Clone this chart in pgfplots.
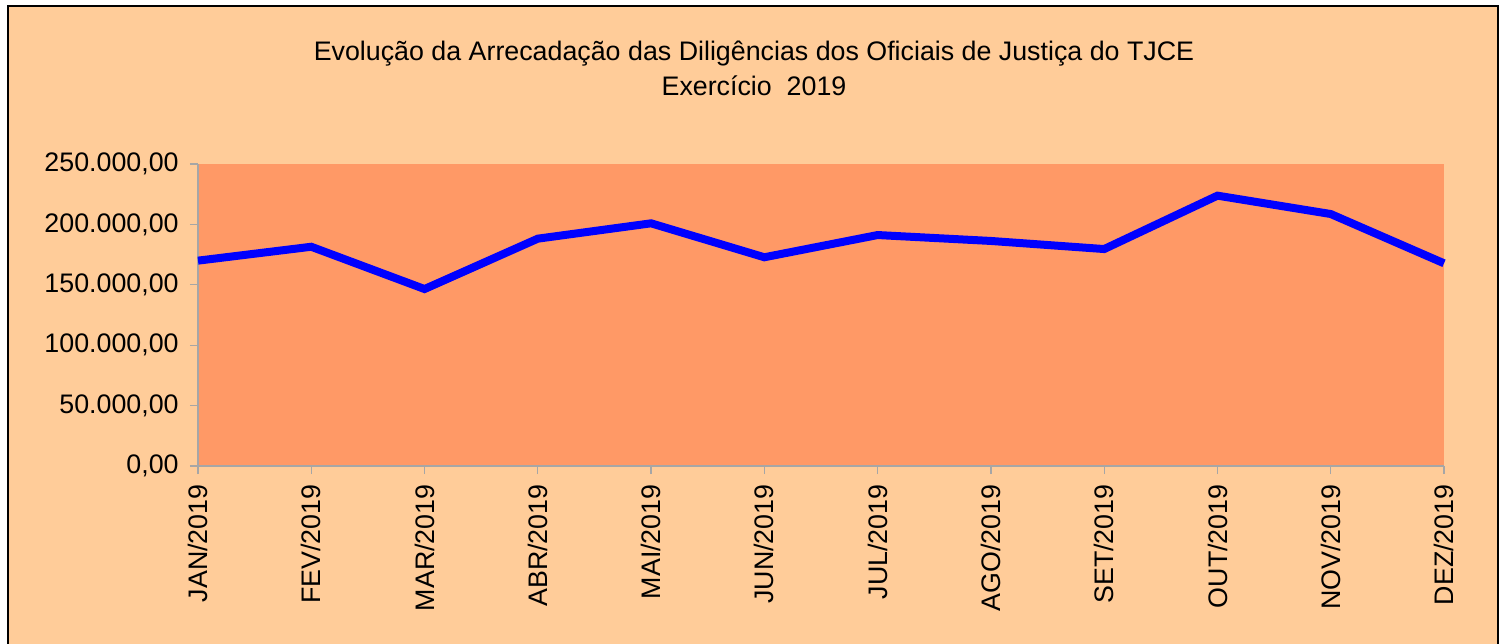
\documentclass[border=0pt]{standalone}
\usepackage{pgfplots}
\pgfplotsset{compat=1.18}
\usepackage{fontspec}
\setmainfont{Liberation Sans}
\definecolor{outerbg}{HTML}{FFCC99}
\definecolor{plotbg}{HTML}{FF9966}
\definecolor{axisgray}{HTML}{A6A6A6}
\begin{document}
\begin{tikzpicture}
\useasboundingbox (-99pt,-88.5pt) rectangle (652.5pt,233pt);
\fill[white] (-99pt,-88.5pt) rectangle (652.5pt,233pt);
\fill[outerbg] (-95pt,-90pt) rectangle (650pt,230pt);
\draw[black, line width=1.2pt] (-95pt,-90pt) -- (-95pt,230pt) -- (650pt,230pt) -- (650pt,-90pt);
\node[font=\fontsize{13.4}{15}\selectfont] at (278pt,206pt) {Evolução da Arrecadação das Diligências dos Oficiais de Justiça do TJCE};
\node[font=\fontsize{13.4}{15}\selectfont] at (278pt,190pt) {Exercício\ \ 2019};
\begin{axis}[
  at={(0,0)}, anchor=south west,
  scale only axis, width=623pt, height=151pt,
  xmin=0, xmax=11, ymin=0, ymax=250000,
  scaled y ticks=false,
  axis x line*=bottom, axis y line*=left,
  axis background/.style={fill=plotbg},
  axis line style={axisgray, line width=0.6pt},
  tick style={axisgray, line width=0.6pt},
  tick align=outside, major tick length=4pt,
  xtick={0,...,11},
  xticklabels={JAN/2019,FEV/2019,MAR/2019,ABR/2019,MAI/2019,JUN/2019,JUL/2019,AGO/2019,SET/2019,OUT/2019,NOV/2019,DEZ/2019},
  x tick label style={rotate=90, anchor=east, font=\fontsize{13.4}{15}\selectfont, inner sep=5pt},
  ytick={0,50000,100000,150000,200000,250000},
  yticklabels={{0,00},{50.000,00},{100.000,00},{150.000,00},{200.000,00},{250.000,00}},
  y tick label style={font=\fontsize{13.4}{15}\selectfont, inner sep=5.5pt},
  clip=false,
]
\addplot[color=blue, line width=4pt, line join=miter, mark=none] coordinates {
  (0,170000) (1,181500) (2,146500) (3,188200) (4,200900) (5,172800)
  (6,191200) (7,186300) (8,179600) (9,223800) (10,208600) (11,167800)
};
\end{axis}
\end{tikzpicture}
\end{document}
